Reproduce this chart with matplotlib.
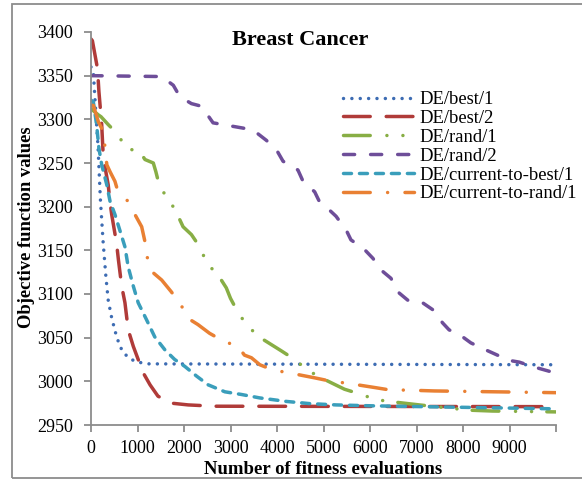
import matplotlib
matplotlib.use("Agg")
import matplotlib.pyplot as plt
from matplotlib.patches import Rectangle

plt.rcParams["font.family"] = ["Liberation Serif", "DejaVu Serif"]

# ---- data ----
best1_x = [0, 50, 100, 150, 200, 260, 320, 370, 440, 520, 620, 730, 870, 1000, 1250, 10000]
best1_y = [3360, 3355, 3310, 3270, 3210, 3160, 3120, 3093, 3074, 3057, 3040, 3031, 3025, 3022, 3020, 3019]

best2_x = [0, 30, 140, 170, 230, 265, 370, 410, 445, 550, 590, 660, 730, 800, 910, 1120,
           1270, 1440, 1730, 2090, 2660, 10000]
best2_y = [3392, 3390, 3358, 3332, 3294, 3256, 3225, 3205, 3191, 3158, 3139, 3109, 3090, 3059,
           3040, 3010, 2996, 2983, 2975, 2973, 2971.5, 2971]

rand1_x = [0, 160, 215, 370, 590, 745, 1050, 1160, 1340, 1395, 1480, 1680, 1840, 1980, 2160,
           2350, 2490, 2730, 2910, 3000, 3150, 3340, 3610, 4090, 4380, 4650, 4950, 5450, 5810,
           6130, 6490, 7060, 8130, 8630, 10000]
rand1_y = [3312, 3305, 3303, 3294, 3282, 3267, 3263, 3254, 3250, 3240, 3222, 3208, 3193, 3177,
           3168, 3153, 3135, 3122, 3107, 3095, 3080, 3065, 3051, 3035, 3025, 3013, 3004, 2991,
           2985, 2979, 2976.5, 2973, 2967, 2966, 2965]

rand2_x = [0, 1520, 1770, 1910, 2160, 2375, 2625, 3050, 3480, 3770, 3990, 4130, 4450, 4560,
           4810, 4910, 5130, 5270, 5490, 5590, 5880, 6060, 6270, 6450, 6630, 6810, 7130, 7350,
           7560, 7700, 7990, 8170, 8490, 8740, 8990, 9210, 9490, 9890]
rand2_y = [3350, 3349, 3339, 3326, 3318, 3315, 3296, 3292, 3288, 3276, 3265, 3252, 3242, 3229,
           3217, 3206, 3196, 3189, 3173, 3162, 3151, 3141, 3126, 3118, 3101, 3093, 3090, 3082,
           3067, 3059, 3051, 3044, 3036, 3030, 3024, 3022, 3017, 3011]

ctb_x = [0, 50, 120, 170, 230, 340, 410, 515, 620, 730, 800, 910, 1015, 1190, 1370, 1590,
         1800, 2020, 2270, 2520, 2880, 3230, 3630, 4200, 4700, 5270, 6000, 10000]
ctb_y = [3322, 3320, 3294, 3267, 3248, 3225, 3206, 3191, 3173, 3154, 3131, 3109, 3090, 3071,
         3051, 3036, 3025, 3017, 3006, 2996, 2988, 2985, 2981, 2977, 2974.5, 2973, 2972, 2968.5]

ctr_x = [0, 50, 160, 265, 340, 410, 515, 570, 780, 945, 1090, 1160, 1210, 1300, 1520, 1720,
         1920, 2090, 2300, 2550, 2850, 3160, 3300, 3450, 3630, 3910, 4230, 4810, 5170, 5490,
         6090, 6440, 6780, 7380, 8060, 10000]
ctr_y = [3316, 3316, 3297, 3286, 3248, 3240, 3229, 3219, 3207, 3191, 3177, 3160, 3142, 3126,
         3116, 3103, 3089, 3072, 3065, 3055, 3046, 3040, 3030, 3027, 3019, 3013, 3010, 3004,
         3000, 2998, 2993, 2990, 2990, 2989, 2988.5, 2987]

labels = ["DE/best/1", "DE/best/2", "DE/rand/1", "DE/rand/2",
          "DE/current-to-best/1", "DE/current-to-rand/1"]
x_ticks = list(range(0, 10001, 1000))
x_tick_labels = [str(v) for v in range(0, 9001, 1000)] + [""]
y_ticks = list(range(2950, 3401, 50))

series = [(best1_x, best1_y), (best2_x, best2_y), (rand1_x, rand1_y),
          (rand2_x, rand2_y), (ctb_x, ctb_y), (ctr_x, ctr_y)]
colors = ["#3D6CB3", "#B03B39", "#88AE45", "#6E4E99", "#3A9EBB", "#E98033"]
# dash patterns in units of line width (round caps widen each dash)
dashes = [(0.01, 2.4), (7.7, 4.6), (7.7, 4.8, 0.01, 4.6, 0.01, 4.4),
          (3.2, 4.6), (2.3, 2.3), (7.7, 5.0, 0.01, 5.0)]

fig = plt.figure(figsize=(5.82, 4.84), dpi=100)
ax = fig.add_axes([91 / 582, 59 / 484, 465 / 582, 393 / 484])

for (xs, ys), c, d, lab in zip(series, colors, dashes, labels):
    ax.plot(xs, ys, color=c, lw=2.5, dashes=d, dash_capstyle="round",
            solid_capstyle="round", label=lab)

ax.set_xlim(0, 10000)
ax.set_ylim(2950, 3400)
ax.set_xticks(x_ticks)
ax.set_xticklabels(x_tick_labels)
ax.set_yticks(y_ticks)
for s in ["top", "right"]:
    ax.spines[s].set_visible(False)
for s in ["left", "bottom"]:
    ax.spines[s].set_color("#8c8c8c")
    ax.spines[s].set_linewidth(1.3)
ax.tick_params(direction="out", length=5, width=1.3, color="#8c8c8c",
               labelsize=13, labelcolor="black")
ax.tick_params(axis="y", pad=8)
ax.tick_params(axis="x", pad=6)

fig.text(300 / 582, 1 - 40 / 484, "Breast Cancer", ha="center", va="center",
         fontsize=16, fontweight="bold")
fig.text(323 / 582, 1 - 469 / 484, "Number of fitness evaluations", ha="center",
         va="center", fontsize=13.5, fontweight="bold")
fig.text(27 / 582, 1 - 227 / 484, "Objective function values", ha="center",
         va="center", rotation=90, fontsize=13.4, fontweight="bold")

fig.legend(loc="upper left", bbox_to_anchor=(343 / 582, 1 - 91 / 484),
           frameon=False, fontsize=13.4, handlelength=3.8, handletextpad=0.3,
           labelspacing=0.1, borderpad=0, borderaxespad=0)

fig.patches.append(Rectangle((12 / 582, 6 / 484), 0.99, 474 / 484, transform=fig.transFigure,
                             fill=False, edgecolor="#8c8c8c", lw=1.3))

fig.savefig("out.png", dpi=100)
